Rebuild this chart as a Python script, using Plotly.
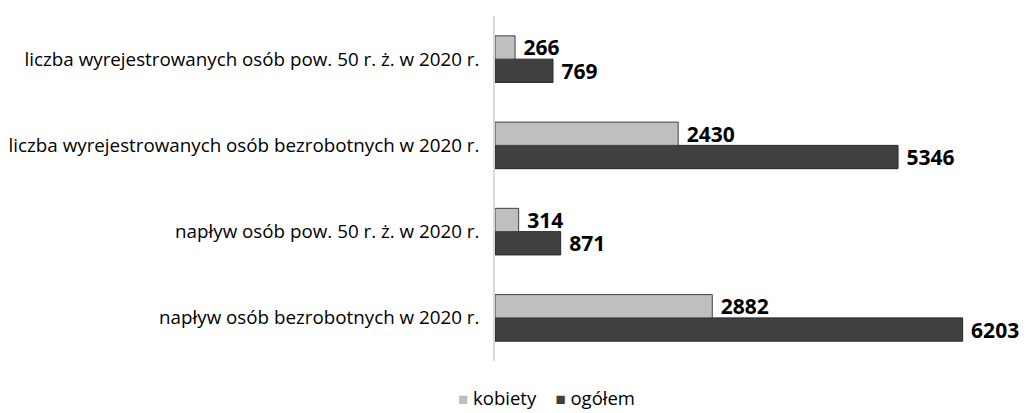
import plotly.graph_objects as go

categories = [
    "napływ osób bezrobotnych w 2020 r.",
    "napływ osób pow. 50 r. ż. w 2020 r.",
    "liczba wyrejestrowanych osób bezrobotnych w 2020 r.",
    "liczba wyrejestrowanych osób pow. 50 r. ż. w 2020 r.",
]
kobiety = [2882, 314, 2430, 266]
ogolem = [6203, 871, 5346, 769]

label_font = dict(family="Open Sans", size=21, color="#000000", weight="bold")

# page body has an 8px margin, so figure coordinates = picture coordinates - 8
L, T, PW, PH, W, H = 487, 8, 530, 345, 1022, 405

fig = go.Figure()
# In horizontal grouped bars plotly draws the first trace at the bottom of the group
fig.add_trace(go.Bar(
    y=categories, x=ogolem, orientation="h", name="ogółem",
    marker=dict(color="#404040", line=dict(color="#262626", width=1)),
    texttemplate="\u00a0%{x}", textposition="outside", constraintext="none",
    textfont=label_font, cliponaxis=False, showlegend=False,
))
fig.add_trace(go.Bar(
    y=categories, x=kobiety, orientation="h", name="kobiety",
    marker=dict(color="#BFBFBF", line=dict(color="#404040", width=1)),
    texttemplate="\u00a0%{x}", textposition="outside", constraintext="none",
    textfont=label_font, cliponaxis=False, showlegend=False,
))

legend_text = (
    '<span style="color:#BFBFBF;font-size:17px">■</span> kobiety\u00a0\u00a0\u00a0 '
    '<span style="color:#404040;font-size:17px">■</span> ogółem'
)
fig.add_annotation(
    text=legend_text, xref="paper", yref="paper",
    x=(538 - L) / PW, y=-(390 - (T + PH)) / PH,
    xanchor="center", yanchor="middle", showarrow=False,
    font=dict(family="Open Sans", size=18.5, color="#000000"),
)

fig.update_layout(
    width=W, height=H,
    margin=dict(l=L, r=W - L - PW, t=T, b=H - T - PH),
    paper_bgcolor="white", plot_bgcolor="white",
    barmode="group", bargap=0.46, bargroupgap=0,
    font=dict(family="Open Sans", size=18, color="#000000"),
    showlegend=False,
    xaxis=dict(range=[0, 7030], visible=False, showgrid=False, zeroline=False, automargin=False),
    yaxis=dict(showline=True, linecolor="#D9D9D9", linewidth=1.5, ticks="",
               ticklabelstandoff=10, showgrid=False, automargin=False,
               tickfont=dict(family="Open Sans", size=18.8, color="#000000")),
    uniformtext=dict(mode=False),
)

fig.write_html("out.html")
